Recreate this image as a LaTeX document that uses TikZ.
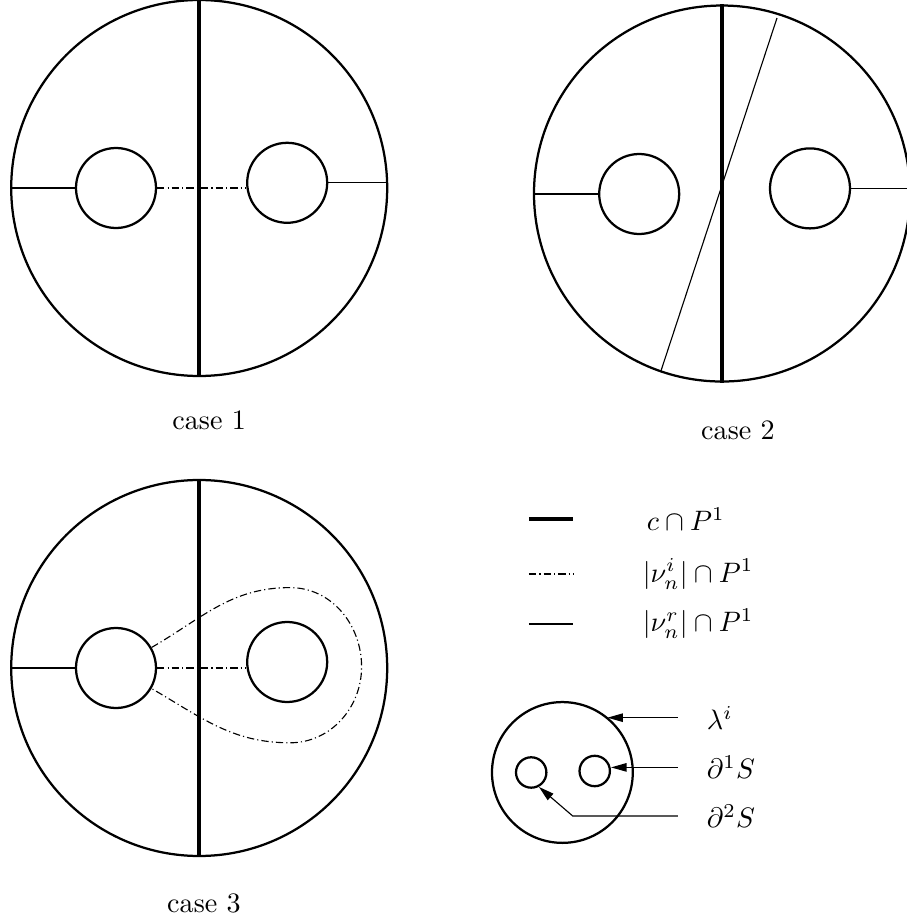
\documentclass[tikz,border=0pt]{standalone}
\usepackage{amsmath,amssymb}
\usetikzlibrary{arrows.meta,positioning}

\begin{document}
\begin{tikzpicture}[
  disc/.style={draw, circle, line width=0.8pt, inner sep=0pt, minimum size=4.7cm},
  hole/.style={draw, circle, line width=0.8pt, inner sep=0pt, minimum size=1cm},
  cline/.style={line width=1.6pt},
  nur/.style={line width=0.4pt},
  nui/.style={line width=0.4pt, dash pattern=on 2.6pt off 1.1pt on 0.4pt off 1.1pt},
  ar/.style={-{Triangle[length=5.5pt,width=3pt]}, line width=0.4pt},
  lbl/.style={inner sep=1pt},
]
\useasboundingbox (0,0) rectangle (11.3375,11.475);

% --- case 1 ---
\node[disc] (b1) at (2.49,9.125) {};
\node[hole] (h11) at (1.45,9.125) {};
\node[hole] (h12) at (3.59,9.19) {};
\draw[cline] (b1.north) -- (b1.south);
\draw[nur] (h11.west) -- (b1.west);
\draw[nur] (h12.east) -- (h12.east -| b1.east);
\draw[nui] (h11.east) -- (h11.east -| h12.west);
\node[below=3mm of b1, xshift=1.25mm] (t1) {case 1};

% --- case 2 ---
\node[disc] (b2) at (9.025,9.056) {};
\node[hole] (h21) at (7.99,9.05) {};
\node[hole] (h22) at (10.125,9.12) {};
\draw[cline] (b2.north) -- (b2.south);
\coordinate (s2a) at (9.7125,11.25);
\coordinate (s2b) at (8.2625,6.84);
\draw[nur] (s2a) -- (s2b);
\draw[nur] (h21.west) -- (h21.west -| b2.west);
\draw[nur] (h22.east) -- (h22.east -| b2.east);
\node[below=3.5mm of b2, xshift=2mm] (t2) {case 2};

% --- case 3 ---
\node[disc] (b3) at (2.49,3.125) {};
\node[hole] (h31) at (1.45,3.125) {};
\node[hole] (h32) at (3.59,3.2) {};
\draw[cline] (b3.north) -- (b3.south);
\draw[nur] (h31.west) -- (b3.west);
\draw[nui] (h31.east) -- (h31.east -| h32.west);
\coordinate (lpt) at (3.625,4.13);
\coordinate (lpr) at (4.52,3.14);
\coordinate (lpb) at (3.625,2.19);
\draw[nui] (h31.30) to[out=30,in=180] (lpt) to[out=0,in=90] (lpr)
  to[out=-90,in=0] (lpb) to[out=180,in=-30] (h31.-30);
\node[below=3.4mm of b3, xshift=0.6mm] (t3) {case 3};

% --- legend ---
\coordinate (k1) at (6.6125,4.9875);
\coordinate (k2) at (6.6125,4.3);
\coordinate (k3) at (6.6125,3.675);
\draw[cline] (k1) -- ++(0.55,0) coordinate (k1e);
\draw[nui] (k2) -- ++(0.55,0) coordinate (k2e);
\draw[nur] (k3) -- ++(0.55,0) coordinate (k3e);
\node[lbl, right=8.8mm of k1e] (l1) {$c\cap P^1$};
\node[lbl, right=8.3mm of k2e] (l2) {$|\nu_n^i|\cap P^1$};
\node[lbl, right=8.3mm of k3e] (l3) {$|\nu_n^r|\cap P^1$};

% --- boundary key ---
\node[disc, minimum size=1.76cm] (b4) at (7.03,1.819) {};
\node[hole, minimum size=0.38cm] (h41) at (6.64,1.819) {};
\node[hole, minimum size=0.38cm] (h42) at (7.434,1.8375) {};
\coordinate (p1) at (8.475,2.504);
\coordinate (p2) at (8.475,1.8825);
\coordinate (p3) at (8.475,1.275);
\coordinate (p3k) at (7.159,1.275);
\draw[ar] (p1) -- (p1 -| b4.51);
\draw[ar] (p2) -- (p2 -| h42.east);
\draw[ar] (p3) -- (p3k) -- (h41.-62);
\node[lbl, right=3.2mm of p1] (lam) {$\lambda^i$};
\node[lbl, right=3.2mm of p2] (d1) {$\partial^1 S$};
\node[lbl, right=3.2mm of p3] (d2) {$\partial^2 S$};
\end{tikzpicture}
\end{document}
